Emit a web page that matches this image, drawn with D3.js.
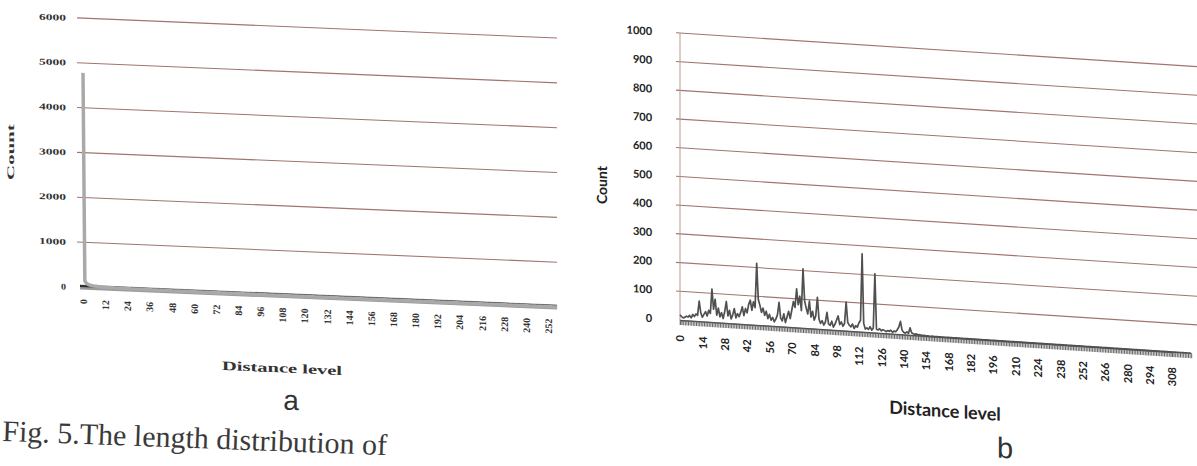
<!DOCTYPE html>
<html>
<head>
<meta charset="utf-8">
<script src="https://cdn.jsdelivr.net/npm/d3@7"></script>
<style>
  body { margin: 0; background: #fff; }
  svg { display: block; }
</style>
</head>
<body>
<svg id="fig" width="1197" height="466"></svg>
<script>
// panel a : count per distance level (0 .. 257)
const countsA = [
  4780, 140, 85, 60, 48, 40, 34, 30, 26, 23, 20, 18, 16, 15, 14, 13, 12, 11, 10, 10,
  9, 9, 8, 8, 7, 7, 6, 6, 6, 5, 5, 5, 4, 4, 4, 4, 3, 3, 3, 3,
  3, 2, 2, 2, 2, 2, 2, 2, 1, 1, 1, 1, 1, 1, 1, 1, 1, 1, 1, 1,
  0, 0, 0, 0, 0, 0, 0, 0, 0, 0, 0, 0, 0, 0, 0, 0, 0, 0, 0, 0,
  0, 0, 0, 0, 0, 0, 0, 0, 0, 0, 0, 0, 0, 0, 0, 0, 0, 0, 0, 0,
  0, 0, 0, 0, 0, 0, 0, 0, 0, 0, 0, 0, 0, 0, 0, 0, 0, 0, 0, 0,
  0, 0, 0, 0, 0, 0, 0, 0, 0, 0, 0, 0, 0, 0, 0, 0, 0, 0, 0, 0,
  0, 0, 0, 0, 0, 0, 0, 0, 0, 0, 0, 0, 0, 0, 0, 0, 0, 0, 0, 0,
  0, 0, 0, 0, 0, 0, 0, 0, 0, 0, 0, 0, 0, 0, 0, 0, 0, 0, 0, 0,
  0, 0, 0, 0, 0, 0, 0, 0, 0, 0, 0, 0, 0, 0, 0, 0, 0, 0, 0, 0,
  0, 0, 0, 0, 0, 0, 0, 0, 0, 0, 0, 0, 0, 0, 0, 0, 0, 0, 0, 0,
  0, 0, 0, 0, 0, 0, 0, 0, 0, 0, 0, 0, 0, 0, 0, 0, 0, 0, 0, 0,
  0, 0, 0, 0, 0, 0, 0, 0, 0, 0, 0, 0, 0, 0, 0, 0, 0, 0
];

// panel b : count per distance level (0 .. 320)
const countsB = [
  18, 12, 8, 10, 15, 12, 18, 10, 22, 15, 25, 20, 70, 30, 15, 25, 35, 20, 40, 30,
  115, 45, 80, 25, 50, 20, 35, 15, 40, 75, 25, 45, 15, 30, 52, 20, 35, 25, 40, 60,
  30, 55, 40, 70, 85, 50, 80, 60, 215, 90, 70, 45, 60, 35, 50, 25, 40, 20, 30, 15,
  25, 40, 84, 30, 20, 45, 15, 35, 55, 30, 60, 90, 70, 135, 80, 110, 60, 206, 95, 70,
  50, 95, 40, 60, 30, 45, 110, 35, 20, 30, 15, 25, 60, 20, 15, 30, 10, 20, 35, 50,
  20, 30, 15, 25, 100, 30, 20, 15, 25, 10, 20, 15, 30, 40, 272, 30, 10, 15, 10, 20,
  8, 15, 205, 12, 10, 15, 8, 12, 10, 6, 10, 8, 12, 5, 10, 8, 15, 25, 45, 15,
  8, 5, 10, 5, 25, 8, 5, 3, 5, 2, 3, 2, 1, 2, 0, 1, 0, 0, 1, 0,
  0, 0, 0, 0, 0, 0, 0, 0, 0, 0, 0, 0, 0, 0, 0, 0, 0, 0, 0, 0,
  0, 0, 0, 0, 0, 0, 0, 0, 0, 0, 0, 0, 0, 0, 0, 0, 0, 0, 0, 0,
  0, 0, 0, 0, 0, 0, 0, 0, 0, 0, 0, 0, 0, 0, 0, 0, 0, 0, 0, 0,
  0, 0, 0, 0, 0, 0, 0, 0, 0, 0, 0, 0, 0, 0, 0, 0, 0, 0, 0, 0,
  0, 0, 0, 0, 0, 0, 0, 0, 0, 0, 0, 0, 0, 0, 0, 0, 0, 0, 0, 0,
  0, 0, 0, 0, 0, 0, 0, 0, 0, 0, 0, 0, 0, 0, 0, 0, 0, 0, 0, 0,
  0, 0, 0, 0, 0, 0, 0, 0, 0, 0, 0, 0, 0, 0, 0, 0, 0, 0, 0, 0,
  0, 0, 0, 0, 0, 0, 0, 0, 0, 0, 0, 0, 0, 0, 0, 0, 0, 0, 0, 0,
  0
];

const yTicksA = [0, 1000, 2000, 3000, 4000, 5000, 6000];
const yTicksB = [0, 100, 200, 300, 400, 500, 600, 700, 800, 900, 1000];
const xLabelsA = [0, 12, 24, 36, 48, 60, 72, 84, 96, 108, 120, 132, 144, 156, 168, 180,
                  192, 204, 216, 228, 240, 252];
const xLabelsB = [0, 14, 28, 42, 56, 70, 84, 98, 112, 126, 140, 154, 168, 182, 196, 210,
                  224, 238, 252, 266, 280, 294, 308];

const caption = "Fig. 5.The length distribution of";

var svg = d3.select("#fig");
var grid = "#a07470";

// the page was photographed at an angle, so each panel is skewed a little
const skew = s => Math.atan(s) * 180 / Math.PI;

/* ---------- panel a ---------- */
var ga = svg.append("g").attr("transform", `translate(80,0) skewY(${skew(0.042)})`);

var xA = d3.scaleLinear().domain([0, 252]).range([3, 468]);
var yA = d3.scaleLinear().domain([0, 6000]).range([287, 18]);

ga.selectAll(".grid").data(yTicksA.slice(1)).enter().append("line")
    .attr("x1", -3).attr("x2", 477)
    .attr("y1", d => yA(d)).attr("y2", d => yA(d))
    .attr("stroke", grid).attr("stroke-width", 1.1);

var axA = ga.append("g")
    .call(d3.axisLeft(yA).tickValues(yTicksA).tickFormat(d3.format("d"))
            .tickSize(0).tickPadding(14));
axA.select(".domain").remove();
axA.selectAll("text")
    .attr("font-family", "Liberation Serif").attr("font-weight", "bold")
    .attr("font-size", 9).attr("fill", "#333")
    .attr("textLength", d => d ? 27 : 5).attr("lengthAdjust", "spacingAndGlyphs");

// zero line (thick, as in the scan)
ga.append("line")
    .attr("x1", 0).attr("x2", 477).attr("y1", yA(0)).attr("y2", yA(0))
    .attr("stroke", "#9a9a9a").attr("stroke-width", 5);
ga.append("line")
    .attr("x1", 0).attr("x2", 477).attr("y1", yA(0) - 1).attr("y2", yA(0) - 1)
    .attr("stroke", "#2b2b2b").attr("stroke-width", 2);

ga.append("path").datum(countsA)
    .attr("fill", "none").attr("stroke", "#a9a9a9").attr("stroke-width", 3.5)
    .attr("d", d3.line().x((d, i) => xA(i)).y(d => yA(d)));

var bxA = ga.append("g").attr("transform", `translate(0,${yA(0)})`)
    .call(d3.axisBottom(xA).tickValues(xLabelsA).tickSize(0));
bxA.select(".domain").remove();
bxA.selectAll("text")
    .attr("transform", "rotate(-90)").attr("x", -12).attr("y", 0).attr("dy", "0.35em")
    .style("text-anchor", "end")
    .attr("font-family", "Liberation Serif").attr("font-weight", "bold")
    .attr("font-size", 10).attr("fill", "#333");

ga.append("text").attr("transform", "translate(-66,155) rotate(-90)")
    .attr("text-anchor", "middle").attr("font-family", "Liberation Serif")
    .attr("font-weight", "bold").attr("font-size", 10).attr("fill", "#333")
    .attr("textLength", 56).attr("lengthAdjust", "spacingAndGlyphs")
    .text("Count");

ga.append("text").attr("x", 202).attr("y", 364)
    .attr("text-anchor", "middle").attr("font-family", "Liberation Serif")
    .attr("font-weight", "bold").attr("font-size", 13).attr("fill", "#333")
    .attr("textLength", 120).attr("lengthAdjust", "spacingAndGlyphs")
    .text("Distance level");

ga.append("text").attr("x", 211).attr("y", 401)
    .attr("text-anchor", "middle").attr("font-family", "Liberation Sans")
    .attr("font-size", 28).attr("fill", "#333").text("a");

/* ---------- panel b ---------- */
var gb = svg.append("g").attr("transform", `translate(680,0) skewY(${skew(0.065)})`);

var xB = d3.scaleLinear().domain([0, 308]).range([0, 492]);
var yB = d3.scaleLinear().domain([0, 1000]).range([320, 33]);

gb.selectAll(".grid").data(yTicksB.slice(1)).enter().append("line")
    .attr("x1", -4).attr("x2", 520)
    .attr("y1", d => yB(d)).attr("y2", d => yB(d))
    .attr("stroke", grid).attr("stroke-width", 1.1);

gb.append("line").attr("x1", 0).attr("x2", 0).attr("y1", yB(1000)).attr("y2", yB(0))
    .attr("stroke", "#b89a96").attr("stroke-width", 1);

var axB = gb.append("g")
    .call(d3.axisLeft(yB).tickValues(yTicksB).tickFormat(d3.format("d"))
            .tickSize(0).tickPadding(28));
axB.select(".domain").remove();
axB.selectAll("text")
    .attr("font-family", "Lato").attr("font-weight", "bold")
    .attr("font-size", 11).attr("fill", "#222");

// one tick per distance level gives the comb under the axis
gb.append("g").attr("transform", `translate(0,${yB(0)})`)
    .call(d3.axisBottom(xB).tickValues(countsB.map((d, i) => i)).tickSize(5).tickFormat(""))
    .call(g => g.selectAll("line").attr("stroke", "#666"))
    .call(g => g.select(".domain").attr("stroke", "#444").attr("stroke-width", 1.5));

gb.append("path").datum(countsB)
    .attr("fill", "none").attr("stroke", "#505050").attr("stroke-width", 1.7)
    .attr("stroke-linejoin", "round")
    .attr("d", d3.line().x((d, i) => xB(i)).y(d => yB(d)));

var bxB = gb.append("g").attr("transform", `translate(0,${yB(0)})`)
    .call(d3.axisBottom(xB).tickValues(xLabelsB).tickSize(0));
bxB.select(".domain").remove();
bxB.selectAll("text")
    .attr("transform", "rotate(-90)").attr("x", -15).attr("y", 0).attr("dy", "0.35em")
    .style("text-anchor", "end")
    .attr("font-family", "Lato").attr("font-weight", "bold")
    .attr("font-size", 11).attr("fill", "#222");

gb.append("text").attr("transform", "translate(-73,190) rotate(-90)")
    .attr("text-anchor", "middle").attr("font-family", "Lato")
    .attr("font-weight", "bold").attr("font-size", 14).attr("fill", "#222")
    .text("Count");

gb.append("text").attr("x", 265).attr("y", 400)
    .attr("text-anchor", "middle").attr("font-family", "Lato")
    .attr("font-weight", "bold").attr("font-size", 18).attr("fill", "#222")
    .text("Distance level");

gb.append("text").attr("x", 325).attr("y", 437)
    .attr("text-anchor", "middle").attr("font-family", "Liberation Sans")
    .attr("font-size", 29).attr("fill", "#333").text("b");

/* ---------- caption ---------- */
svg.append("text").attr("transform", "translate(2,441) rotate(2.1)")
    .attr("font-family", "Liberation Serif").attr("font-size", 30)
    .attr("fill", "#3a3a3a").text(caption);
</script>
</body>
</html>
